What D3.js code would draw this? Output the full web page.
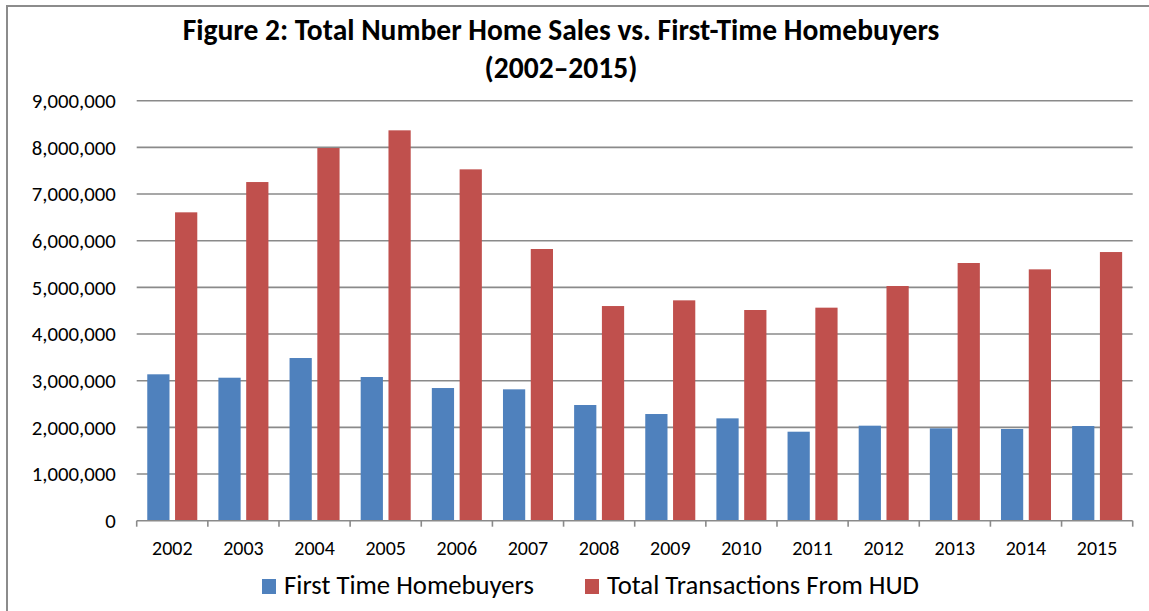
<!DOCTYPE html>
<html>
<head>
<meta charset="utf-8">
<script src="https://cdn.jsdelivr.net/npm/d3@7"></script>
<style>
  body { margin: 0; background: #fff; }
  text { font-family: Carlito, Calibri, Lato, sans-serif; fill: #000; }
</style>
</head>
<body>
<div id="chart-area"></div>
<script>
// data
let years = ["2002","2003","2004","2005","2006","2007","2008","2009","2010","2011","2012","2013","2014","2015"];
let firstTime = [3137000, 3064000, 3486000, 3079000, 2843000, 2815000, 2479000, 2286000, 2193000, 1907000, 2036000, 1979000, 1965000, 2029000];
let totalHUD = [6608000, 7257000, 7986000, 8365000, 7529000, 5822000, 4600000, 4722000, 4515000, 4565000, 5029000, 5522000, 5386000, 5757000];
let seriesNames = ["First Time Homebuyers", "Total Transactions From HUD"];
let seriesColors = ["#4f81bd", "#c0504d"];
let yTicks = [0, 1000000, 2000000, 3000000, 4000000, 5000000, 6000000, 7000000, 8000000, 9000000];

let W = 1149, H = 611;
let margin = {top: 100.7, left: 136.7, right: 16.3, bottom: 90.3};
let width = W - margin.left - margin.right;
let height = H - margin.top - margin.bottom;

let root = d3.select("#chart-area").append("svg")
    .attr("width", W)
    .attr("height", H);

// scale a text selection's font so that a sample string has the wanted width
function fitFont(sel, sample, target) {
    let probe = root.append("text").style("font-size", "20px")
        .style("font-weight", sel.style("font-weight")).text(sample);
    let w = probe.node().getComputedTextLength();
    probe.remove();
    sel.style("font-size", (20 * target / w) + "px");
}

// outer frame (right/bottom edges fall outside the picture)
root.append("rect")
    .attr("x", 7).attr("y", 6)
    .attr("width", 1200).attr("height", 700)
    .attr("fill", "none")
    .attr("stroke", "#8c8c8c")
    .attr("stroke-width", 2);

// title
let title = root.append("g").style("font-weight", "bold");
title.append("text")
    .attr("x", 561).attr("y", 40)
    .attr("text-anchor", "middle")
    .text("Figure 2: Total Number Home Sales vs. First-Time Homebuyers");
title.append("text")
    .attr("x", 561).attr("y", 78)
    .attr("text-anchor", "middle")
    .text("(2002\u20132015)");
fitFont(title, "Figure 2: Total Number Home Sales vs. First-Time Homebuyers", 757);

let svg = root.append("g")
    .attr("transform", "translate(" + margin.left + "," + margin.top + ")");

let x = d3.scaleBand().domain(years).range([0, width]);
let xInner = d3.scaleBand().domain([0, 1]).range([0, x.bandwidth()])
    .paddingInner(0.2).paddingOuter(0.38);
let y = d3.scaleLinear().domain([0, 9000000]).range([height, 0]);

// gridlines
svg.selectAll(".grid")
    .data(yTicks.slice(1))
    .enter().append("line")
    .attr("class", "grid")
    .attr("x1", 0).attr("x2", width)
    .attr("y1", d => y(d)).attr("y2", d => y(d))
    .attr("stroke", "#8a8a8a")
    .attr("stroke-width", 1.6);

// y labels
let yLabels = svg.append("g");
yLabels.selectAll("text")
    .data(yTicks)
    .enter().append("text")
    .attr("x", -21)
    .attr("y", d => y(d))
    .attr("dy", "0.35em")
    .attr("text-anchor", "end")
    .text(d => d3.format(",")(d));
fitFont(yLabels, "9,000,000", 84);

// bars
let rows = years.map((yr, i) => ({year: yr, vals: [firstTime[i], totalHUD[i]]}));
let groups = svg.selectAll(".yr")
    .data(rows)
    .enter().append("g")
    .attr("transform", d => "translate(" + x(d.year) + ",0)");

groups.selectAll("rect")
    .data(d => d.vals.map((v, k) => ({k: k, v: v})))
    .enter().append("rect")
    .attr("x", d => xInner(d.k))
    .attr("width", xInner.bandwidth())
    .attr("y", d => y(d.v))
    .attr("height", d => height - y(d.v))
    .attr("fill", d => seriesColors[d.k]);

// x axis line + ticks at band boundaries
svg.append("line")
    .attr("x1", 0).attr("x2", width)
    .attr("y1", height).attr("y2", height)
    .attr("stroke", "#8a8a8a")
    .attr("stroke-width", 1.6);

let bounds = years.map(d => x(d)).concat([width]);
svg.selectAll(".tick")
    .data(bounds)
    .enter().append("line")
    .attr("class", "tick")
    .attr("x1", d => d).attr("x2", d => d)
    .attr("y1", height).attr("y2", height + 6)
    .attr("stroke", "#8a8a8a")
    .attr("stroke-width", 1.6);

let xLabels = svg.append("g");
xLabels.selectAll("text")
    .data(years)
    .enter().append("text")
    .attr("x", d => x(d) + x.bandwidth() / 2)
    .attr("y", height + 34.5)
    .attr("text-anchor", "middle")
    .text(d => d);
fitFont(xLabels, "2002", 40.5);

// legend
let legendX = [262, 585];
let legend = root.append("g");
let items = legend.selectAll("g")
    .data(seriesNames)
    .enter().append("g")
    .attr("transform", (d, i) => "translate(" + legendX[i] + ",579)");

items.append("rect")
    .attr("width", 14).attr("height", 15)
    .attr("fill", (d, i) => seriesColors[i]);

items.append("text")
    .attr("x", 22).attr("y", 15)
    .text(d => d);
fitFont(legend, "First Time Homebuyers", 250);
</script>
</body>
</html>
